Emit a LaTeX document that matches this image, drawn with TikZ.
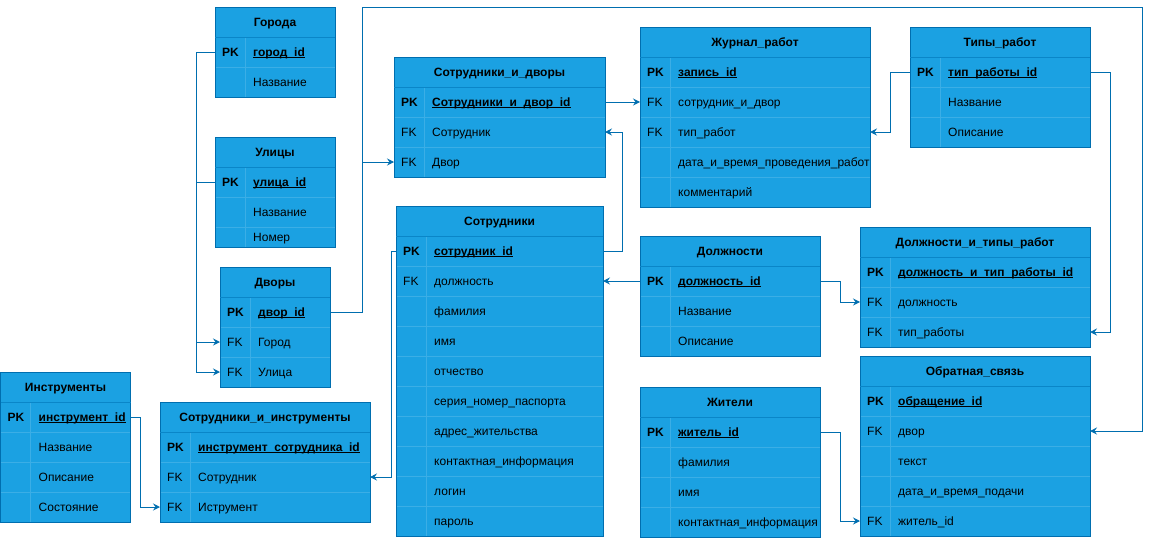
\documentclass[tikz,border=0pt]{standalone}
\usepackage{fontspec}
\setmainfont{Liberation Sans}
\usetikzlibrary{arrows.meta}
\definecolor{fillb}{HTML}{1BA1E2}
\definecolor{strk}{HTML}{006EAF}
\definecolor{sepc}{HTML}{3BAEE6}
\definecolor{hsep}{HTML}{0A86C8}
\tikzset{
  hdr/.style={draw=strk, line width=1pt, fill=fillb, inner sep=0pt, outer sep=0pt,
    minimum height=30pt, font=\fontsize{12}{14}\selectfont\bfseries, text=black,
    text height=8.6pt, text depth=0pt},
  rowbox/.style={draw=sepc, line width=0.8pt, fill=fillb, inner sep=0pt, outer sep=0pt},
  keytxt/.style={inner sep=0pt, anchor=west, text=black, font=\fontsize{12}{14}\selectfont,
    text height=8.6pt, text depth=0pt},
  conn/.style={draw=strk, line width=1pt, -{Stealth[length=7pt,width=7pt,inset=2.5pt]}},
  wire/.style={draw=strk, line width=1pt},
  outerb/.style={draw=strk, line width=1pt}
}
\newcommand\uln[1]{\setbox0\hbox{#1}\rlap{\rule[-1.8pt]{\wd0}{0.9pt}}\box0}
\newcommand\ertab[5]{\node[hdr, minimum width=#4pt, anchor=north west] (#1) at (#2,-#3) {#5};}
\newcommand\erow[7][30]{%
  \node[rowbox, minimum width=#5pt, minimum height=#1pt, anchor=north west] (#2) at (#3,-#4) {};
  \node[keytxt] at ([xshift=7pt]#2.west) {#6};
  \node[keytxt] at ([xshift=38pt]#2.west) {#7};
  \draw[draw=sepc, line width=0.8pt] ([xshift=30pt]#2.north west) -- ([xshift=30pt]#2.south west);
}
\newcommand\erpk[5]{\erow{#1}{#2}{#3}{#4}{\bfseries PK}{\bfseries\uln{#5}}}
\newcommand\erborder[2]{%
  \draw[outerb] (#1.north west) rectangle (#2.south east);
  \draw[draw=hsep, line width=0.8pt] (#1.south west) -- (#1.south east);
}
\begin{document}
\begin{tikzpicture}[x=1pt, y=1pt]
\useasboundingbox (0,0) rectangle (1151,-538);

% Города
\ertab{gor}{215}{7}{120}{Города}
\erpk{gorpk}{215}{37}{120}{город\_id}
\erow{gor2}{215}{67}{120}{}{Название}
\erborder{gor}{gor2}

% Улицы
\ertab{ul}{215}{137}{120}{Улицы}
\erpk{ulpk}{215}{167}{120}{улица\_id}
\erow{ul2}{215}{197}{120}{}{Название}
\erow[20]{ul3}{215}{227}{120}{}{Номер}
\erborder{ul}{ul3}

% Дворы
\ertab{dv}{220}{267}{110}{Дворы}
\erpk{dvpk}{220}{297}{110}{двор\_id}
\erow{dvgor}{220}{327}{110}{FK}{Город}
\erow{dvul}{220}{357}{110}{FK}{Улица}
\erborder{dv}{dvul}

% Инструменты
\ertab{in}{0.5}{372}{130}{Инструменты}
\erpk{inpk}{0.5}{402}{130}{инструмент\_id}
\erow{in2}{0.5}{432}{130}{}{Название}
\erow{in3}{0.5}{462}{130}{}{Описание}
\erow{in4}{0.5}{492}{130}{}{Состояние}
\erborder{in}{in4}

% Сотрудники_и_инструменты
\ertab{si}{160}{402}{210}{Сотрудники\_и\_инструменты}
\erpk{sipk}{160}{432}{210}{инструмент\_сотрудника\_id}
\erow{sisotr}{160}{462}{210}{FK}{Сотрудник}
\erow{siinstr}{160}{492}{210}{FK}{Иструмент}
\erborder{si}{siinstr}

% Сотрудники_и_дворы
\ertab{sd}{394}{57}{211}{Сотрудники\_и\_дворы}
\erpk{sdpk}{394}{87}{211}{Сотрудники\_и\_двор\_id}
\erow{sdsotr}{394}{117}{211}{FK}{Сотрудник}
\erow{sddvor}{394}{147}{211}{FK}{Двор}
\erborder{sd}{sddvor}

% Сотрудники
\ertab{s}{396}{206}{207}{Сотрудники}
\erpk{spk}{396}{236}{207}{сотрудник\_id}
\erow{sdol}{396}{266}{207}{FK}{должность}
\erow{s3}{396}{296}{207}{}{фамилия}
\erow{s4}{396}{326}{207}{}{имя}
\erow{s5}{396}{356}{207}{}{отчество}
\erow{s6}{396}{386}{207}{}{серия\_номер\_паспорта}
\erow{s7}{396}{416}{207}{}{адрес\_жительства}
\erow{s8}{396}{446}{207}{}{контактная\_информация}
\erow{s9}{396}{476}{207}{}{логин}
\erow{s10}{396}{506}{207}{}{пароль}
\erborder{s}{s10}

% Журнал_работ
\ertab{zh}{640}{27}{230}{Журнал\_работ}
\erpk{zhpk}{640}{57}{230}{запись\_id}
\erow{zhsd}{640}{87}{230}{FK}{сотрудник\_и\_двор}
\erow{zhtip}{640}{117}{230}{FK}{тип\_работ}
\erow{zh4}{640}{147}{230}{}{дата\_и\_время\_проведения\_работ}
\erow{zh5}{640}{177}{230}{}{комментарий}
\erborder{zh}{zh5}

% Типы_работ
\ertab{tr}{910}{27}{180}{Типы\_работ}
\erpk{trpk}{910}{57}{180}{тип\_работы\_id}
\erow{tr2}{910}{87}{180}{}{Название}
\erow{tr3}{910}{117}{180}{}{Описание}
\erborder{tr}{tr3}

% Должности
\ertab{d}{640}{236}{180}{Должности}
\erpk{dpk}{640}{266}{180}{должность\_id}
\erow{d2}{640}{296}{180}{}{Название}
\erow{d3}{640}{326}{180}{}{Описание}
\erborder{d}{d3}

% Жители
\ertab{zi}{640}{387}{180}{Жители}
\erpk{zipk}{640}{417}{180}{житель\_id}
\erow{zi2}{640}{447}{180}{}{фамилия}
\erow{zi3}{640}{477}{180}{}{имя}
\erow{zi4}{640}{507}{180}{}{контактная\_информация}
\erborder{zi}{zi4}

% Должности_и_типы_работ
\ertab{dt}{860}{227}{230}{Должности\_и\_типы\_работ}
\erpk{dtpk}{860}{257}{230}{должность\_и\_тип\_работы\_id}
\erow{dtdol}{860}{287}{230}{FK}{должность}
\erow{dttip}{860}{317}{230}{FK}{тип\_работы}
\erborder{dt}{dttip}

% Обратная_связь
\ertab{os}{860}{356}{230}{Обратная\_связь}
\erpk{ospk}{860}{386}{230}{обращение\_id}
\erow{osdvor}{860}{416}{230}{FK}{двор}
\erow{os3}{860}{446}{230}{}{текст}
\erow{os4}{860}{476}{230}{}{дата\_и\_время\_подачи}
\erow{oszhit}{860}{506}{230}{FK}{житель\_id}
\erborder{os}{oszhit}

% Connectors
\coordinate (topR) at (1142,-7);
\draw[conn] (gorpk.west) -- ++(-19,0) |- (dvgor.west);
\draw[conn] (ulpk.west) -- ++(-19,0) |- (dvul.west);
\draw[conn] (dvpk.east) -- ++(32,0) |- (sddvor.west);
\draw[conn] (dvpk.east) -- ++(32,0) |- (topR) |- (osdvor.east);
\draw[conn] (sdpk.east) -- (zhsd.west);
\draw[conn] (spk.east) -- ++(19,0) |- (sdsotr.east);
\draw[conn] (spk.west) -- ++(-5,0) |- (sisotr.east);
\draw[conn] (inpk.east) -- ++(10,0) |- (siinstr.west);
\draw[conn] (trpk.west) -- ++(-20,0) |- (zhtip.east);
\draw[conn] (trpk.east) -- ++(20,0) |- (dttip.east);
\draw[conn] (dpk.west) -- (sdol.east);
\draw[conn] (dpk.east) -- ++(20,0) |- (dtdol.west);
\draw[conn] (zipk.east) -- ++(20,0) |- (oszhit.west);
\end{tikzpicture}
\end{document}
